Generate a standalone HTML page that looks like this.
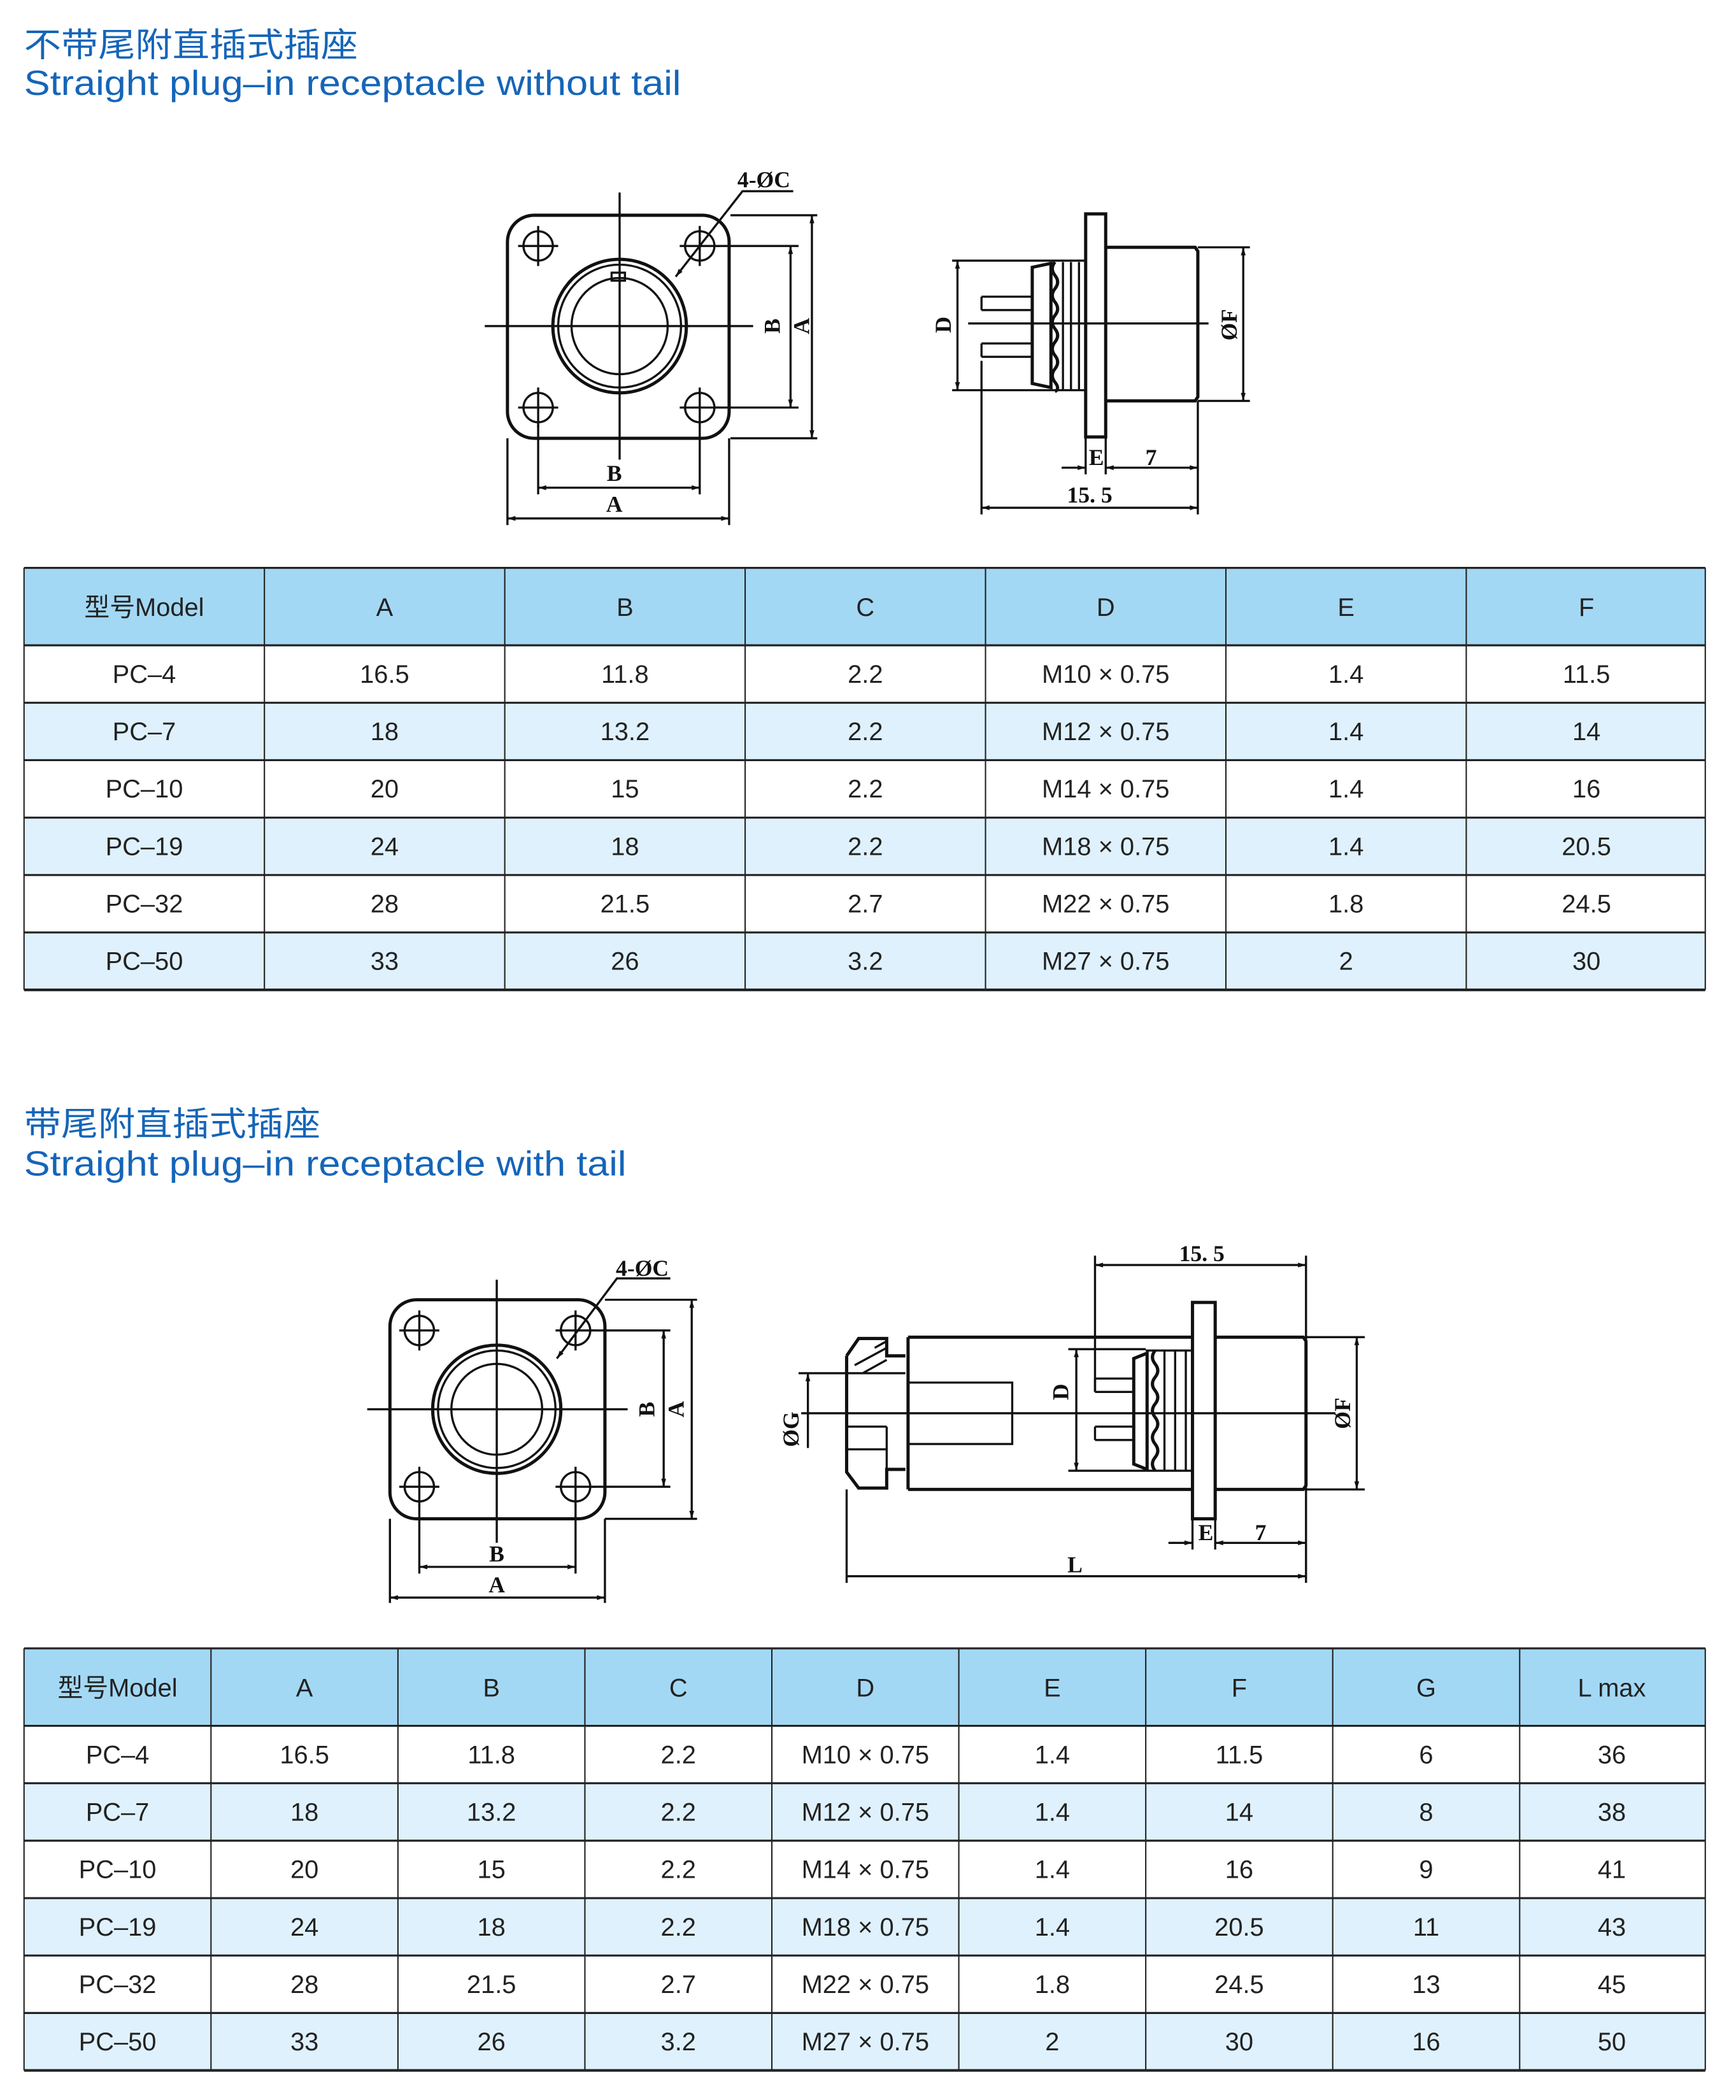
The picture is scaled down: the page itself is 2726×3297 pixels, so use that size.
<!DOCTYPE html>
<html><head><meta charset="utf-8"><style>
html,body{margin:0;padding:0;background:#fff;}
svg{display:block;}
.t{font-family:"Liberation Sans","Noto Sans CJK SC",sans-serif;fill:#1565b8;}
.c{font-family:"Liberation Sans","Noto Sans CJK SC",sans-serif;font-size:19px;fill:#222;text-anchor:middle;}
.d{font-family:"Liberation Serif",serif;font-weight:bold;font-size:17px;fill:#111;text-anchor:middle;}
.l{stroke:#111;stroke-width:1.6;fill:none;}
.k{stroke:#111;stroke-width:2.4;fill:none;}
.g{stroke:#222;stroke-width:1.5;}
</style></head><body>
<svg width="2726" height="3297" viewBox="0 0 1300 1572" xmlns="http://www.w3.org/2000/svg">
<defs>
<marker id="a" viewBox="0 0 10 10" refX="10" refY="5" markerWidth="9" markerHeight="6" orient="auto-start-reverse" markerUnits="userSpaceOnUse"><path d="M0,2 L10,5 L0,8 z" fill="#111"/></marker>
</defs>
<rect width="1300" height="1572" fill="#fff"/>
<!-- titles -->
<text class="t" x="18" y="42" font-size="25" textLength="250" lengthAdjust="spacingAndGlyphs">不带尾附直插式插座</text>
<text class="t" x="18" y="71" font-size="26" textLength="492" lengthAdjust="spacingAndGlyphs">Straight plug–in receptacle without tail</text>
<text class="t" x="18" y="850" font-size="25" textLength="222" lengthAdjust="spacingAndGlyphs">带尾附直插式插座</text>
<text class="t" x="18" y="880" font-size="26" textLength="451" lengthAdjust="spacingAndGlyphs">Straight plug–in receptacle with tail</text>

<!-- Drawing 1 front -->
<g>
<rect class="k" x="380" y="161" width="166" height="167" rx="20"/>
<g class="l">
<circle cx="403" cy="184" r="11"/><circle cx="524" cy="184" r="11"/><circle cx="403" cy="305" r="11"/><circle cx="524" cy="305" r="11"/>
<path d="M388 184h30M403 169v30M509 184h30M524 169v30M388 305h30M403 290v30M509 305h30M524 290v30"/>
<path d="M363 244H564M464 144V344"/>
</g>
<circle class="k" cx="464" cy="244" r="50" stroke-width="3"/>
<circle class="l" cx="464" cy="244" r="46"/>
<circle class="l" cx="464" cy="244" r="36"/>
<rect class="l" x="458" y="204" width="10" height="6"/>
<g class="l">
<path d="M547 161H612M547 328H612" />
<path d="M536 184H598M536 305H598"/>
<path d="M608 161V328" marker-start="url(#a)" marker-end="url(#a)"/>
<path d="M592 184V305" marker-start="url(#a)" marker-end="url(#a)"/>
<path d="M403 318V370M524 318V370M380 328V393M546 328V393"/>
<path d="M403 365H524" marker-start="url(#a)" marker-end="url(#a)"/>
<path d="M380 388H546" marker-start="url(#a)" marker-end="url(#a)"/>
<path d="M506 207L556 143H594" marker-start="url(#a)"/>
</g>
<text class="d" x="460" y="360">B</text>
<text class="d" x="460" y="383">A</text>
<text class="d" transform="translate(584,244) rotate(-90)">B</text>
<text class="d" transform="translate(606,244) rotate(-90)">A</text>
<text class="d" x="572" y="140">4-ØC</text>
</g>

<!-- Drawing 1 side -->
<g>
<rect class="k" x="813" y="160" width="15" height="167"/>
<path class="k" d="M828 185H895L897 188V297L895 300H828"/>
<path class="l" d="M787 195H813M787 292H813"/>
<path class="k" d="M790 196q-4 5 0 10q4 5 0 10q-4 5 0 10q4 5 0 10q-4 5 0 10q4 5 0 10q-4 5 0 10q4 5 0 10q-4 5 0 10q4 5 0 7"/>
<path class="l" d="M796 196v96M802 196v96M808 196v96"/>
<path class="k" d="M773 200L787 197V290L773 287Z"/>
<path class="l" d="M735 222H773M735 232H773M735 222V232M735 257H773M735 267H773M735 257V267"/>
<path class="l" d="M725 242H905"/>
<g class="l">
<path d="M713 195H787M713 292H787"/>
<path d="M717 195V292" marker-start="url(#a)" marker-end="url(#a)"/>
<path d="M897 185H936M897 300H936"/>
<path d="M931 185V300" marker-start="url(#a)" marker-end="url(#a)"/>
<path d="M813 327V355M828 327V355M897 300V385M735 270V385"/>
<path d="M795 350H813" marker-end="url(#a)"/>
<path d="M828 350H897" marker-start="url(#a)" marker-end="url(#a)"/>
<path d="M735 380H897" marker-start="url(#a)" marker-end="url(#a)"/>
</g>
<text class="d" transform="translate(712,243) rotate(-90)">D</text>
<text class="d" transform="translate(926,243) rotate(-90)">ØF</text>
<text class="d" x="821" y="348">E</text>
<text class="d" x="862" y="348">7</text>
<text class="d" x="816" y="376">15. 5</text>
</g>

<!-- Drawing 2 front -->
<g>
<rect class="k" x="292" y="973" width="161" height="164" rx="20"/>
<g class="l">
<circle cx="314" cy="996" r="11"/><circle cx="431" cy="996" r="11"/><circle cx="314" cy="1113" r="11"/><circle cx="431" cy="1113" r="11"/>
<path d="M299 996h30M314 981v30M416 996h30M431 981v30M299 1113h30M314 1098v30M416 1113h30M431 1098v30"/>
<path d="M275 1055H470M372 958V1155"/>
</g>
<circle class="k" cx="372" cy="1055" r="48" stroke-width="3"/>
<circle class="l" cx="372" cy="1055" r="44"/>
<circle class="l" cx="372" cy="1055" r="34"/>
<g class="l">
<path d="M453 973H522M453 1137H522"/>
<path d="M443 996H502M443 1113H502"/>
<path d="M518 973V1137" marker-start="url(#a)" marker-end="url(#a)"/>
<path d="M497 996V1113" marker-start="url(#a)" marker-end="url(#a)"/>
<path d="M314 1126V1178M431 1126V1178M292 1137V1200M453 1137V1200"/>
<path d="M314 1173H431" marker-start="url(#a)" marker-end="url(#a)"/>
<path d="M292 1196H453" marker-start="url(#a)" marker-end="url(#a)"/>
<path d="M417 1017L462 957H502" marker-start="url(#a)"/>
</g>
<text class="d" x="372" y="1169">B</text>
<text class="d" x="372" y="1192">A</text>
<text class="d" transform="translate(490,1055) rotate(-90)">B</text>
<text class="d" transform="translate(512,1055) rotate(-90)">A</text>
<text class="d" x="481" y="955">4-ØC</text>
</g>

<!-- Drawing 2 side -->
<g>
<path class="k" d="M634 1015L643 1002H664V1015H678M634 1015V1102L643 1114H664V1100H678"/>
<path class="l" d="M634 1015V1028M634 1028H678M646 1028L664 1018M640 1022L664 1009M655 1009L664 1004M634 1085H664M634 1068H664M664 1068V1100"/>
<path class="k" d="M680 1001H893M680 1115H893M680 1001V1115"/>
<rect class="l" x="680" y="1035" width="78" height="46"/>
<rect class="k" x="893" y="975" width="17" height="162"/>
<path class="k" d="M910 1001H976L978 1004V1112L976 1115H910"/>
<path class="k" d="M865 1011q-4 5 0 10q4 5 0 10q-4 5 0 10q4 5 0 10q-4 5 0 10q4 5 0 10q-4 5 0 10q4 5 0 10q-4 5 0 10"/>
<path class="l" d="M872 1011v90M880 1011v90M888 1011v90M858 1011H893M858 1101H893"/>
<path class="k" d="M849 1017L859 1013V1100L849 1096Z"/>
<path class="l" d="M820 1032H849M820 1042H849M820 1032V1042M820 1068H849M820 1078H849M820 1068V1078"/>
<path class="l" d="M600 1058H1000"/>
<g class="l">
<path d="M800 1010H858M800 1101H858"/>
<path d="M806 1010V1101" marker-start="url(#a)" marker-end="url(#a)"/>
<path d="M978 1001H1022M978 1115H1022"/>
<path d="M1016 1001V1115" marker-start="url(#a)" marker-end="url(#a)"/>
<path d="M598 1028H634"/>
<path d="M605 1084V1028" marker-end="url(#a)"/>
<path d="M820 940V1042M978 940V1185M634 1115V1185M893 1137V1160M910 1137V1160"/>
<path d="M820 947H978" marker-start="url(#a)" marker-end="url(#a)"/>
<path d="M875 1155H893" marker-end="url(#a)"/>
<path d="M910 1155H978" marker-start="url(#a)" marker-end="url(#a)"/>
<path d="M634 1180H978" marker-end="url(#a)"/>
</g>
<text class="d" transform="translate(800,1042) rotate(-90)">D</text>
<text class="d" transform="translate(1011,1058) rotate(-90)">ØF</text>
<text class="d" transform="translate(598,1070) rotate(-90)">ØG</text>
<text class="d" x="900" y="944">15. 5</text>
<text class="d" x="903" y="1153">E</text>
<text class="d" x="944" y="1153">7</text>
<text class="d" x="805" y="1177">L</text>
</g>

<!-- Table 1 -->
<g>
<rect x="18" y="425" width="1259" height="58" fill="#a3d8f4"/>
<rect x="18" y="526" width="1259" height="43" fill="#dff1fc"/>
<rect x="18" y="612" width="1259" height="43" fill="#dff1fc"/>
<rect x="18" y="698" width="1259" height="43" fill="#dff1fc"/>
<g class="g">
<path d="M18 425H1277M18 483H1277M18 526H1277M18 569H1277M18 612H1277M18 655H1277M18 698H1277" stroke-width="1.5"/>
<path d="M18 425V741M198 425V741M378 425V741M558 425V741M738 425V741M918 425V741M1098 425V741M1277 425V741" stroke-width="1"/>
<path d="M18 741H1277" stroke-width="2"/>
</g>
<g class="c">
<text x="108" y="461">型号Model</text><text x="288" y="461">A</text><text x="468" y="461">B</text><text x="648" y="461">C</text><text x="828" y="461">D</text><text x="1008" y="461">E</text><text x="1188" y="461">F</text>
<text x="108" y="511">PC–4</text><text x="288" y="511">16.5</text><text x="468" y="511">11.8</text><text x="648" y="511">2.2</text><text x="828" y="511">M10 × 0.75</text><text x="1008" y="511">1.4</text><text x="1188" y="511">11.5</text>
<text x="108" y="554">PC–7</text><text x="288" y="554">18</text><text x="468" y="554">13.2</text><text x="648" y="554">2.2</text><text x="828" y="554">M12 × 0.75</text><text x="1008" y="554">1.4</text><text x="1188" y="554">14</text>
<text x="108" y="597">PC–10</text><text x="288" y="597">20</text><text x="468" y="597">15</text><text x="648" y="597">2.2</text><text x="828" y="597">M14 × 0.75</text><text x="1008" y="597">1.4</text><text x="1188" y="597">16</text>
<text x="108" y="640">PC–19</text><text x="288" y="640">24</text><text x="468" y="640">18</text><text x="648" y="640">2.2</text><text x="828" y="640">M18 × 0.75</text><text x="1008" y="640">1.4</text><text x="1188" y="640">20.5</text>
<text x="108" y="683">PC–32</text><text x="288" y="683">28</text><text x="468" y="683">21.5</text><text x="648" y="683">2.7</text><text x="828" y="683">M22 × 0.75</text><text x="1008" y="683">1.8</text><text x="1188" y="683">24.5</text>
<text x="108" y="726">PC–50</text><text x="288" y="726">33</text><text x="468" y="726">26</text><text x="648" y="726">3.2</text><text x="828" y="726">M27 × 0.75</text><text x="1008" y="726">2</text><text x="1188" y="726">30</text>
</g>
</g>

<!-- Table 2 -->
<g>
<rect x="18" y="1234" width="1259" height="58" fill="#a3d8f4"/>
<rect x="18" y="1335" width="1259" height="43" fill="#dff1fc"/>
<rect x="18" y="1421" width="1259" height="43" fill="#dff1fc"/>
<rect x="18" y="1507" width="1259" height="43" fill="#dff1fc"/>
<g class="g">
<path d="M18 1234H1277M18 1292H1277M18 1335H1277M18 1378H1277M18 1421H1277M18 1464H1277M18 1507H1277" stroke-width="1.5"/>
<path d="M18 1234V1550M158 1234V1550M298 1234V1550M438 1234V1550M578 1234V1550M718 1234V1550M858 1234V1550M998 1234V1550M1138 1234V1550M1277 1234V1550" stroke-width="1"/>
<path d="M18 1550H1277" stroke-width="2"/>
</g>
<g class="c">
<text x="88" y="1270">型号Model</text><text x="228" y="1270">A</text><text x="368" y="1270">B</text><text x="508" y="1270">C</text><text x="648" y="1270">D</text><text x="788" y="1270">E</text><text x="928" y="1270">F</text><text x="1068" y="1270">G</text><text x="1207" y="1270">L max</text>
<text x="88" y="1320">PC–4</text><text x="228" y="1320">16.5</text><text x="368" y="1320">11.8</text><text x="508" y="1320">2.2</text><text x="648" y="1320">M10 × 0.75</text><text x="788" y="1320">1.4</text><text x="928" y="1320">11.5</text><text x="1068" y="1320">6</text><text x="1207" y="1320">36</text>
<text x="88" y="1363">PC–7</text><text x="228" y="1363">18</text><text x="368" y="1363">13.2</text><text x="508" y="1363">2.2</text><text x="648" y="1363">M12 × 0.75</text><text x="788" y="1363">1.4</text><text x="928" y="1363">14</text><text x="1068" y="1363">8</text><text x="1207" y="1363">38</text>
<text x="88" y="1406">PC–10</text><text x="228" y="1406">20</text><text x="368" y="1406">15</text><text x="508" y="1406">2.2</text><text x="648" y="1406">M14 × 0.75</text><text x="788" y="1406">1.4</text><text x="928" y="1406">16</text><text x="1068" y="1406">9</text><text x="1207" y="1406">41</text>
<text x="88" y="1449">PC–19</text><text x="228" y="1449">24</text><text x="368" y="1449">18</text><text x="508" y="1449">2.2</text><text x="648" y="1449">M18 × 0.75</text><text x="788" y="1449">1.4</text><text x="928" y="1449">20.5</text><text x="1068" y="1449">11</text><text x="1207" y="1449">43</text>
<text x="88" y="1492">PC–32</text><text x="228" y="1492">28</text><text x="368" y="1492">21.5</text><text x="508" y="1492">2.7</text><text x="648" y="1492">M22 × 0.75</text><text x="788" y="1492">1.8</text><text x="928" y="1492">24.5</text><text x="1068" y="1492">13</text><text x="1207" y="1492">45</text>
<text x="88" y="1535">PC–50</text><text x="228" y="1535">33</text><text x="368" y="1535">26</text><text x="508" y="1535">3.2</text><text x="648" y="1535">M27 × 0.75</text><text x="788" y="1535">2</text><text x="928" y="1535">30</text><text x="1068" y="1535">16</text><text x="1207" y="1535">50</text>
</g>
</g>
</svg>
</body></html>
